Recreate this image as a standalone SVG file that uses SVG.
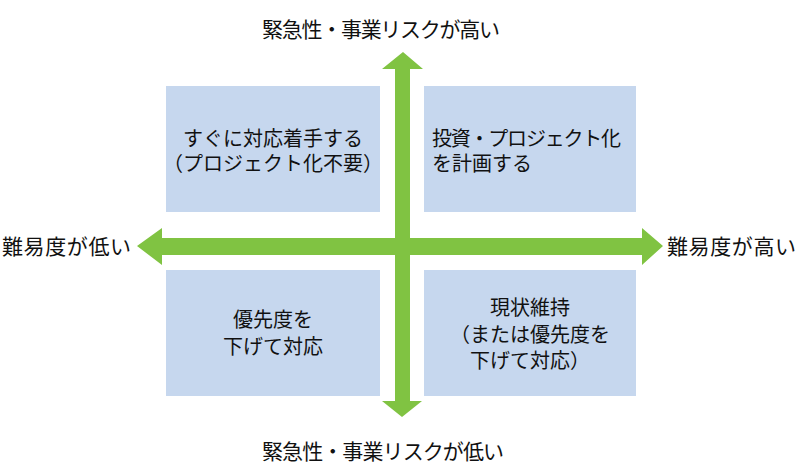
<svg xmlns="http://www.w3.org/2000/svg" width="800" height="469" viewBox="0 0 800 469">
<style>
.box{fill:#c6d7ee}
.t{font-family:"Noto Sans CJK JP","Noto Sans",sans-serif;font-size:20px;fill:#111111}
.l{font-size:21px}
.c{text-anchor:middle}
.arrow{fill:#80c342}
</style>
<rect width="800" height="469" fill="#ffffff"/>
<g id="q-top-left"><rect class="box" x="166" y="86" width="214" height="126"/>
<text class="t c" x="273" y="146">すぐに対応着手する</text>
<text class="t c" x="273" y="171">（プロジェクト化不要）</text></g>
<g id="q-top-right"><rect class="box" x="424" y="86" width="212" height="126"/>
<text class="t" x="432" y="146" textLength="189" lengthAdjust="spacing">投資・プロジェクト化</text>
<text class="t" x="432" y="171">を計画する</text></g>
<g id="q-bottom-left"><rect class="box" x="166" y="270" width="214" height="126"/>
<text class="t c" x="273" y="327">優先度を</text>
<text class="t c" x="273" y="354">下げて対応</text></g>
<g id="q-bottom-right"><rect class="box" x="424" y="270" width="212" height="126"/>
<text class="t c" x="530" y="315">現状維持</text>
<text class="t c" x="530" y="342">（または優先度を</text>
<text class="t c" x="530" y="368">下げて対応）</text></g>
<g id="connectors">
<polygon class="arrow" points="403,52 423,69 410,69 410,401 422,401 402,417 382,401 395,401 395,69 382,69"/>
<polygon class="arrow" points="137,246 162,228 162,238 642,238 642,228 663,246 642,265 642,255 162,255 162,265"/>
</g>
<g id="labels">
<text class="t l" x="262" y="37" textLength="238" lengthAdjust="spacing">緊急性・事業リスクが高い</text>
<text class="t l" x="262" y="459" textLength="242" lengthAdjust="spacing">緊急性・事業リスクが低い</text>
<text class="t l" x="2" y="254" textLength="129">難易度が低い</text>
<text class="t l" x="667" y="254" textLength="129">難易度が高い</text>
</g>
</svg>
